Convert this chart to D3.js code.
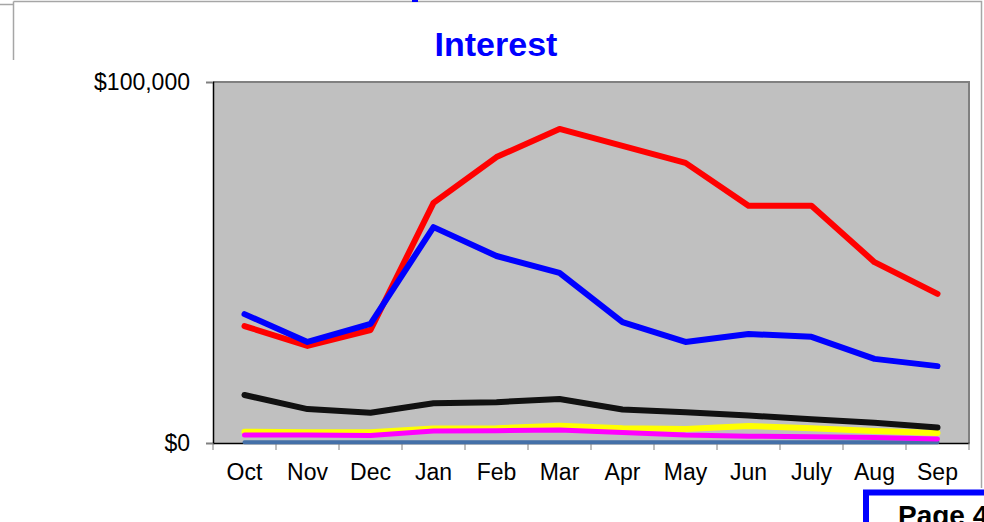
<!DOCTYPE html>
<html>
<head>
<meta charset="utf-8">
<script src="https://cdn.jsdelivr.net/npm/d3@7"></script>
<style>
  body { margin: 0; background: #fff; }
  svg { display: block; font-family: "Liberation Sans", Arial, sans-serif; }
</style>
</head>
<body>
<div id="chart"></div>
<script>
var months = ["Oct", "Nov", "Dec", "Jan", "Feb", "Mar", "Apr", "May", "Jun", "July", "Aug", "Sep"];

// values in dollars
var redSeries     = [32400, 26900, 31300, 66500, 79200, 87000, 82300, 77600, 65700, 65700, 50100, 41300];
var blueSeries    = [35700, 28000, 33000, 59800, 51800, 47100, 33500, 28000, 30200, 29400, 23300, 21300];
var blackSeries   = [13300, 9400, 8400, 11000, 11300, 12200, 9300, 8500, 7600, 6600, 5600, 4300];
var yellowSeries  = [3100, 3000, 3000, 4000, 4100, 4800, 4100, 3900, 4700, 4100, 3300, 2800];
var magentaSeries = [2200, 2200, 2100, 3300, 3400, 3600, 2900, 2200, 1900, 1700, 1500, 1100];
var steelSeries   = [200, 200, 200, 200, 200, 200, 200, 200, 200, 200, 200, 200];

var yTicks = [0, 100000];

var WIDTH = 984, HEIGHT = 522;
var plot = { left: 213, right: 969, top: 82, bottom: 443 };

var svg = d3.select("#chart").append("svg")
    .attr("width", WIDTH)
    .attr("height", HEIGHT);

// outer chart frame bits
svg.append("path")
    .attr("d", "M13.5,1.5H981.5V488 M0,4.5H13.5 M13.5,1.5V60")
    .attr("fill", "none")
    .attr("stroke", "#a6a6a6")
    .attr("stroke-width", 1.5);
svg.append("rect")
    .attr("x", 412).attr("y", 0)
    .attr("width", 6).attr("height", 2)
    .attr("fill", "#0000ff");

var x = d3.scaleBand().domain(months).range([plot.left, plot.right]).padding(0);
var y = d3.scaleLinear().domain([0, 100000]).range([plot.bottom, plot.top]);

// plot background
svg.append("rect")
    .attr("x", plot.left).attr("y", plot.top)
    .attr("width", plot.right - plot.left)
    .attr("height", plot.bottom - plot.top)
    .attr("fill", "#c0c0c0");
svg.append("path")
    .attr("d", "M" + plot.left + "," + plot.top + "H" + plot.right + "V" + plot.bottom)
    .attr("fill", "none")
    .attr("stroke", "#808080")
    .attr("stroke-width", 2);

// title
svg.append("text")
    .attr("x", 496).attr("y", 56)
    .attr("text-anchor", "middle")
    .attr("font-size", 34)
    .attr("font-weight", "bold")
    .attr("fill", "#0000ff")
    .text("Interest");

// y axis
var yAxis = svg.append("g")
    .attr("transform", "translate(" + plot.left + ",0)")
    .call(d3.axisLeft(y).tickValues(yTicks).tickSize(7).tickPadding(16)
        .tickFormat(function(d) { return "$" + d3.format(",")(d); }));
yAxis.select(".domain").attr("stroke", "#000").attr("stroke-width", 1.5);
yAxis.selectAll(".tick line").attr("stroke", "#808080");
yAxis.selectAll(".tick text")
    .attr("font-size", 23)
    .attr("fill", "#000")
    .attr("font-family", "Liberation Sans, Arial, sans-serif");

// x axis: labels centred in bands, ticks on band edges
var xAxis = svg.append("g")
    .attr("transform", "translate(0," + plot.bottom + ")")
    .call(d3.axisBottom(x).tickSize(0).tickPadding(21));
xAxis.select(".domain").attr("stroke", "#000").attr("stroke-width", 1.5);
xAxis.selectAll(".tick text")
    .attr("font-size", 23)
    .attr("fill", "#000")
    .attr("font-family", "Liberation Sans, Arial, sans-serif");

var edges = months.map(function(m) { return x(m); }).concat([plot.right]);
svg.append("g").selectAll("line")
    .data(edges)
    .enter().append("line")
    .attr("x1", function(d) { return d; })
    .attr("x2", function(d) { return d; })
    .attr("y1", plot.bottom)
    .attr("y2", plot.bottom + 7)
    .attr("stroke", "#808080");

// series lines
var line = d3.line()
    .x(function(d, i) { return x(months[i]) + x.bandwidth() / 2; })
    .y(function(d) { return y(d); });

var series = [
    { values: steelSeries, color: "#4470a8", width: 4 },
    { values: yellowSeries, color: "#ffff00", width: 6 },
    { values: magentaSeries, color: "#ff00ff", width: 5 },
    { values: blackSeries, color: "#111111", width: 6 },
    { values: redSeries, color: "#ff0000", width: 6 },
    { values: blueSeries, color: "#0000ff", width: 6 }
];

svg.append("g").selectAll("path")
    .data(series)
    .enter().append("path")
    .attr("d", function(d) { return line(d.values); })
    .attr("fill", "none")
    .attr("stroke", function(d) { return d.color; })
    .attr("stroke-width", function(d) { return d.width; })
    .attr("stroke-linejoin", "round")
    .attr("stroke-linecap", "round");

// page box at bottom right (cut off by the edge, as in the original)
svg.append("rect")
    .attr("x", 866).attr("y", 492.5)
    .attr("width", 140).attr("height", 60)
    .attr("fill", "#fff")
    .attr("stroke", "#0000ff")
    .attr("stroke-width", 6);
svg.append("text")
    .attr("x", 898).attr("y", 525)
    .attr("font-size", 28)
    .attr("font-weight", "bold")
    .attr("fill", "#000")
    .text("Page 4");
</script>
</body>
</html>
